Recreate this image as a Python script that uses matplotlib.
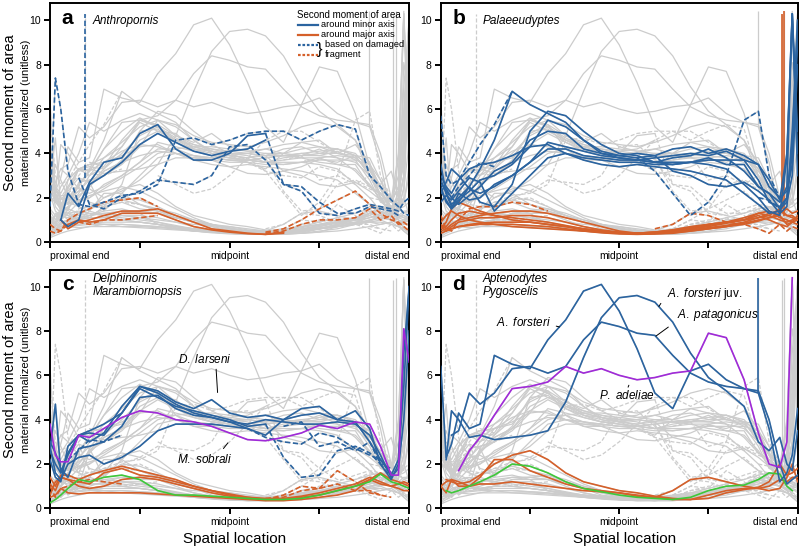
import numpy as np
import matplotlib
matplotlib.use("Agg")
import matplotlib.pyplot as plt

plt.rcParams['font.family'] = ['Liberation Sans', 'DejaVu Sans']
plt.rcParams['mathtext.fontset'] = 'custom'
plt.rcParams['mathtext.rm'] = 'Liberation Sans'
plt.rcParams['mathtext.it'] = 'Liberation Sans:italic'

N = np.nan

# sampling positions along the bone (0 = proximal end, 1 = distal end)
pos = [0, 0.015, 0.03, 0.05, 0.08, 0.11, 0.15, 0.2, 0.25, 0.3, 0.35, 0.4, 0.45,
       0.5, 0.55, 0.6, 0.65, 0.7, 0.75, 0.8, 0.85, 0.89, 0.92, 0.95, 0.97, 0.985, 1.0]

# ---- a: Anthropornis
anthro_minor = [
    [N, N, 1.0, 2.2, 1.6, 2.7, 3.6, 3.8, 4.9, 5.3, 4.2, 3.7, 3.7, 4.0, 4.8, 4.9] + [N] * 11,
    [N, N, 1.0, 0.7, 1.0, 2.6, 3.0, 3.6, 4.4, 4.9, 4.5, 4.1, 3.9, 4.1, 4.2, 4.6] + [N] * 11,
]
anthro_minor_dmg = [
    [1.6, 7.4, 6.0, 3.2, 1.7, 1.6, 1.8, 2.1, 2.2, 2.6, 4.6, 4.7, 4.4, 4.6, 4.9, 5.0, 5.0,
     4.6, 5.0, 5.3, 5.1, 3.0, 2.5, 1.9, 1.6, 1.3, 1.2],
    [N, N, N, N, 2.9, 1.7, 1.5, 2.0, 2.3, 2.8, 2.7, 2.6, 3.0, 4.3, 4.4, 3.7, 2.6, 2.3,
     1.3, 1.2, 1.5, 1.7, 1.6, 1.5, 1.4, 1.8, 2.0],
    [N] * 15 + [4.9, 2.6, 2.5, 1.8, 1.3, 1.3, 1.6, 1.5, 1.4, 1.2, N, N],
]
anthro_major = [
    [N, N, 1.0, 0.6, 0.9, 1.0, 1.2, 1.4, 1.4, 1.5, 1.2, 0.9, 0.6, 0.5, 0.4, 0.35, 0.45] + [N] * 10,
    [N, N, N, 0.8, 1.0, 0.9, 1.0, 1.3, 1.3, 1.3, 1.0, 0.7, 0.55, 0.45, 0.38, 0.35, 0.4] + [N] * 10,
]
anthro_major_dmg = [
    [0.8, 0.6, 0.5, 1.0, 1.3, 1.5, 1.8, 1.9, 2.0, 1.6] + [N] * 17,
    [0.5, 0.4, 0.5, 0.8, 0.9, 0.8, 1.0, 1.0, 1.1, 1.2] + [N] * 17,
    [N] * 15 + [0.45, 0.6, 1.0, 1.5, 1.9, 2.3, 1.7, 1.3, 1.0, 0.9, 0.7, 0.5],
    [N] * 15 + [0.4, 0.5, 0.8, 1.0, 1.0, 1.1, 1.5, 1.0, 1.2, 0.8, 0.9, 0.7],
]

# ---- b: Palaeeudyptes
palae_minor = [
    [2.3, 1.9, 1.5, 1.8, 2.5, 3.3, 4.6, 6.8, 6.2, 5.8, 5.4, 4.6, 4.0, 3.8, 3.7, 3.6, 3.8,
     3.9, 4.2, 3.8, 3.2, 2.5, 2.2, 1.8, 2.5, 10.3, 5.0],
    [3.5, 2.2, 1.7, 2.0, 2.5, 1.8, 1.6, 2.6, 5.0, 5.9, 5.7, 5.0, 4.4, 4.0, 3.9, 3.6, 3.5,
     3.6, 3.5, 3.3, 2.6, 2.0, 1.4, 1.2, 3.8, 10.3, 4.0],
    [2.8, 2.2, 1.6, 1.9, 2.3, 2.8, 3.0, 3.5, 4.3, 5.5, 5.2, 4.6, 4.1, 3.9, 3.8, 3.9, 4.2,
     4.3, 4.0, 4.2, 3.9, 3.5, 2.5, 2.0, 2.3, 3.5, 10.0],
    [2.5, 1.8, 1.5, 2.2, 1.9, 2.0, 2.6, 3.0, 3.6, 4.2, 4.2, 3.9, 3.8, 3.7, 3.7, 3.8, 3.9,
     4.0, 3.9, 4.1, 3.7, 2.8, 1.8, 1.6, 2.0, 4.0, 9.0],
    [2.2, 2.7, 3.3, 3.0, 2.4, 2.2, 2.5, 3.0, 3.6, 4.5, 4.3, 4.1, 3.9, 3.8, 3.7, 3.6, 3.6,
     3.6, 3.7, 3.7, 3.7, 3.5, 2.8, 1.9, 4.0, 10.3, 3.0],
    [1.8, 2.1, 1.9, 2.3, 2.9, 2.7, 1.4, 2.2, 3.0, 3.8, 4.0, 3.8, 3.7, 3.6, 3.6, 3.5, 3.5,
     3.6, 3.8, 3.5, 3.5, 2.5, 2.2, 1.5, 1.8, 3.0, 8.0],
    [2.6, 2.4, 2.0, 1.7, 2.1, 2.5, 3.2, 3.6, 4.6, 5.0, 4.9, 4.2, 4.0, 3.9, 4.0, 3.9, 3.2,
     3.0, 2.6, 2.5, 2.7, 2.3, 1.9, 1.3, 1.6, 5.0, 9.5],
    [3.0, 2.5, 2.2, 2.8, 3.3, 3.5, 3.6, 3.9, 4.3, 4.4, 4.0, 3.7, 3.5, 3.4, 3.5, 3.4, 3.3,
     3.2, 3.0, 2.8, 2.2, 1.7, 1.3, 1.4, 2.0, 4.5, 10.0],
]
palae_minor_dmg = [
    [N] * 14 + [3.8, 3.2, 2.2, 1.2, 1.8, 3.0, 5.5, 5.9, 3.0, 2.0, N, N, N],
    [5.7, 3.0, 2.6, 2.8, 3.6, 4.4, 5.3, 6.8] + [N] * 19,
    [N, 2.3, 2.0, 2.5, 3.0, 3.6, 3.4] + [N] * 20,
    [N] * 21 + [2.0, 1.9, 1.5, N, N, N],
]
palae_major = [
    [0.6, 0.9, 1.5, 1.8, 1.6, 1.4, 1.2, 1.0, 0.9, 0.8, 0.7, 0.55, 0.45, 0.4, 0.4, 0.45,
     0.55, 0.7, 0.8, 0.9, 1.0, 1.1, 1.2, 1.5, 1.2, 1.2, 1.0],
    [0.5, 0.6, 0.8, 1.0, 1.1, 1.2, 1.3, 1.4, 1.4, 1.3, 1.1, 0.9, 0.7, 0.5, 0.4, 0.45, 0.55,
     0.65, 0.8, 0.9, 1.0, 1.3, 1.2, 1.0, 0.9, 1.0, 1.1],
    [0.7, 0.5, 0.7, 0.9, 1.0, 1.1, 1.1, 1.2, 1.2, 1.1, 0.9, 0.7, 0.55, 0.45, 0.4, 0.45, 0.5,
     0.6, 0.7, 0.85, 1.0, 1.2, 1.0, 0.8, 0.7, 0.9, 1.0],
    [0.8, 0.6, 0.6, 0.7, 0.8, 0.85, 0.9, 0.9, 0.9, 0.8, 0.7, 0.6, 0.5, 0.42, 0.38, 0.4, 0.45,
     0.55, 0.65, 0.75, 0.9, 1.1, 1.3, 1.4, 1.2, 1.1, 1.0],
    [0.4, 0.5, 0.6, 0.7, 0.75, 0.8, 0.8, 0.8, 0.75, 0.7, 0.6, 0.5, 0.42, 0.37, 0.35, 0.37,
     0.4, 0.5, 0.6, 0.7, 0.85, 1.0, 1.1, 1.2, 0.8, 0.9, 1.2],
    [0.6, 0.7, 1.0, 1.3, 1.4, 1.3, 1.2, 1.1, 1.0, 0.9, 0.75, 0.6, 0.5, 0.42, 0.4, 0.4, 0.48,
     0.6, 0.75, 0.9, 1.1, 1.3, 1.4, 1.1, 1.0, 0.9, 0.8],
    [0.9, 1.2, 1.4, 1.2, 1.0, 0.9, 0.8, 0.7, 0.65, 0.6, 0.55, 0.5, 0.45, 0.4, 0.38, 0.38,
     0.42, 0.5, 0.6, 0.7, 0.8, 0.95, 1.1, 1.3, 1.5, 1.3, 1.4],
]
palae_major_dmg = [
    [1.2, 0.6, 0.5, 1.0, 1.5, 1.6, 1.6, 1.8, 1.7, 1.4] + [N] * 17,
    [N] * 15 + [0.6, 0.8, 1.3, 1.2, 0.9, 0.8, 0.6, 0.4, 0.8, 0.5, 0.7, 0.6],
]

# ---- c: Delphinornis (blue/orange), Marambiornopsis sobrali (purple/green)
delph_minor = [
    [2.6, 4.7, 1.6, 2.5, 3.3, 3.5, 3.8, 4.3, 5.5, 5.3, 4.8, 4.5, 4.9, 4.3, 4.1, 4.2, 4.0,
     4.2, 4.3, 4.0, 4.4, 3.6, 2.0, 1.3, 2.0, 7.0, 10.0],
    [2.2, 1.4, 1.2, 2.8, 3.3, 3.0, 3.4, 4.6, 5.5, 5.2, 4.7, 4.3, 4.1, 3.9, 3.6, 3.3, 4.0,
     4.5, 4.6, 4.0, 3.9, 3.0, 2.2, 1.5, 2.2, 5.5, 10.0],
    [3.0, 2.5, 1.8, 1.4, 2.7, 2.8, 3.0, 3.7, 5.0, 5.1, 4.5, 4.2, 4.1, 3.9, 3.8, 4.0, 3.9,
     3.8, 3.8, 3.9, 3.8, 3.3, 2.4, 1.4, 1.8, 4.0, 8.0],
    [2.8, 1.6, 1.3, 2.0, 2.3, 2.4, 2.0, 2.3, 2.8, 3.5, 3.8, 3.8, 3.8, 3.7, 3.6] + [N] * 12,
    [2.6, 2.0, 1.6, 2.4, 3.3, 3.4, 3.3, 4.3, 5.4, 5.0, 4.6, 4.4, 4.2, 4.0, 3.7, 3.8] + [N] * 11,
]
delph_minor_dmg = [
    [N] * 15 + [3.8, 2.3, 1.4, 1.5, 2.6, 2.8, 2.5, 2.0, 1.8, N, N, N],
    [N] * 14 + [3.6, 3.2, 3.0, 2.9, 3.4, 3.2, 2.7, 2.4, 2.2, 1.6, N, N, N],
    [N] * 16 + [3.7, 3.9, 2.8, 3.0, 2.6, 3.0, 2.0, 1.4, N, N, N],
    [N, N, N, 2.2, 2.6, 3.1, 3.0, 3.3] + [N] * 19,
]
delph_major = [
    [1.4, 1.0, 1.5, 1.5, 1.3, 1.5, 1.7, 1.9, 1.7, 1.5, 1.3, 1.0, 0.8, 0.6, 0.5, 0.4, 0.4,
     0.5, 0.6, 0.8, 1.0, 1.3, 1.6, 1.3, 1.2, 1.1, 1.0],
    [0.6, 1.2, 1.4, 1.3, 1.2, 1.1, 1.6, 1.8, 1.5, 1.4, 1.2, 1.0, 0.8, 0.65, 0.5, 0.45, 0.45,
     0.55, 0.7, 0.9, 1.1, 1.4, 1.2, 1.0, 1.1, 1.2, 1.1],
    [1.1, 0.8, 1.4, 1.3, 1.0, 0.9, 1.0, 1.3, 1.4, 1.3, 1.1, 0.9, 0.7, 0.55, 0.45, 0.4] + [N] * 11,
    [0.5, 0.6, 0.9, 0.7, 0.65, 0.7, 0.7, 0.7, 0.7, 0.65, 0.6, 0.55, 0.5, 0.45, 0.4, 0.35,
     0.35, 0.4, 0.5, 0.6, 0.8, 1.3, 1.1, 1.0, 0.9, 0.8, 0.8],
]
delph_major_dmg = [
    [N] * 15 + [0.4, 0.6, 1.0, 0.9, 1.7, 1.2, 0.7, 0.6, N, N, N, N],
    [N] * 15 + [0.45, 0.5, 0.8, 0.9, 1.1, 0.8, 0.8, 0.6, 0.5, N, N, N],
    [1.0, 0.5, 0.9, 1.0, 1.2, 1.3, 1.2, 1.1] + [N] * 19,
]
sobrali_minor = [
    [3.8, 2.4, 2.1, 2.1, 3.3, 3.2, 3.6, 4.1, 4.4, 4.3, 4.0, 3.9, 3.7, 3.4, 3.1, 3.05, 3.2,
     3.4, 3.75, 3.6, 3.9, 3.8, 2.8, 1.5, 1.5, 8.1, 6.6],
]
sobrali_major = [
    [0.25, 0.4, 0.6, 0.9, 1.3, 1.2, 1.4, 1.5, 1.3, 0.8, 0.6, 0.6, 0.55, 0.5, 0.45, 0.4, 0.4,
     0.45, 0.6, 0.8, 1.0, 1.2, 1.55, 1.2, 1.1, 1.0, 0.9],
]

# ---- d: Aptenodytes (blue/orange), Pygoscelis adeliae (purple/green)
apten_minor = [
    # A. forsteri
    [6.4, 2.3, 2.9, 4.3, 3.6, 3.8, 6.9, 6.5, 6.3, 7.6, 8.5, 9.8, 10.1, 8.9, 7.2, 5.2, 4.5,
     6.2, 6.5, 5.8, 5.4, 5.2, 3.6, 1.2, 1.6, 2.4, 4.5],
    # A. forsteri juv.
    [N, 2.2, 4.4, 4.0, 3.2, 3.3, 3.1, 3.2, 3.3, 3.5, 4.8, 6.8, 8.6, 9.5, 9.6, 9.3, 8.4,
     7.0, 5.9, 5.3, 4.6, 3.0, 2.6, 3.2, 2.0, 1.7, 3.5],
    # A. patagonicus
    [N, N, 3.3, 3.5, 5.2, 4.7, 5.2, 6.3, 6.4, 6.1, 6.4, 7.6, 8.4, 8.2, 7.9, 7.8, 6.9,
     6.1, 5.7, 5.5, 5.4, 5.3, 4.0, 2.0, 1.1, 1.3, 1.5],
]
apten_major = [
    [1.0, 0.7, 1.3, 1.2, 1.0, 1.4, 2.2, 2.2, 1.7, 1.4, 1.1, 0.9, 0.8, 0.7, 0.55, 0.5, 0.8,
     1.3, 1.4, 1.2, 1.0, 0.9, 0.8, 0.9, 1.4, 2.0, 1.2],
    [N, 1.3, 1.2, 1.1, 1.2, 1.5, 2.0, 2.4, 2.6, 2.2, 1.6, 1.2, 1.0, 0.8, 0.7, 0.55, 0.45,
     0.4, 0.45, 0.7, 0.85, 0.95, 1.2, 2.0, 1.5, 1.6, 1.8],
    [1.0, 1.2, 1.3, 1.0, 1.0, 1.1, 1.1, 1.2, 1.1, 1.0, 0.9, 0.8, 0.75, 0.7, 0.6, 0.5, 0.4,
     0.4, 0.6, 0.8, 0.9, 0.9, 1.0, 1.3, 1.2, 1.4, 1.4],
]
adeliae_minor = [
    [N, N, N, 1.7, 2.6, 3.2, 4.2, 5.4, 5.5, 5.7, 6.4, 6.1, 6.3, 6.0, 5.8, 5.9, 6.1, 6.2,
     7.9, 7.7, 5.8, 3.4, 2.0, 1.85, 3.0, 10.4, N],
]
adeliae_major = [
    [N, 0.8, 0.7, 0.8, 1.0, 1.2, 1.5, 2.0, 1.9, 1.6, 1.2, 0.9, 0.75, 0.6, 0.5, 0.45, 0.4,
     0.5, 0.8, 1.0, 1.05, 1.3, 1.6, 1.55, 1.0, 0.8, N],
]

# ---- other taxa, only shown in grey
other_minor = [
    [2.0, 1.8, 2.5, 3.0, 4.0, 5.4, 5.0, 5.5, 5.8, 5.5, 4.8, 4.4, 4.2, 4.1, 4.0, 4.2, 4.4,
     4.5, 4.3, 4.2, 3.9, 3.0, 2.0, 1.6, 1.8, 3.0, 10.3],
    [4.6, 2.2, 1.6, 2.0, 2.6, 3.2, 4.2, 5.0, 5.6, 5.2, 4.6, 4.3, 4.1, 4.0, 4.0, 3.9, 3.9,
     4.0, 4.1, 4.2, 4.0, 3.3, 2.5, 1.8, 2.5, 6.0, 10.3],
    [3.0, 2.0, 1.4, 1.6, 2.0, 2.6, 3.3, 4.0, 4.8, 5.2, 4.6, 4.2, 3.9, 3.8, 3.7, 3.6, 3.7,
     3.8, 3.6, 3.5, 3.3, 2.6, 1.9, 1.3, 1.6, 3.0, 8.0],
    [1.2, 0.9, 1.0, 1.5, 2.2, 3.0, 3.8, 4.5, 5.2, 5.5, 5.3, 4.8, 4.5, 4.4, 4.3, 4.5, 4.8,
     5.2, 5.4, 5.2, 4.6, 3.5, 2.4, 1.5, 1.3, 2.5, 10.3],
    [2.5, 3.5, 2.8, 2.0, 1.8, 2.0, 2.4, 2.9, 3.4, 4.0, 4.2, 4.3, 4.3, 4.2, 4.1, 4.0, 4.0,
     3.9, 3.9, 3.8, 3.6, 3.0, 2.4, 1.9, 1.7, 2.0, 7.5],
    [1.5, 1.2, 1.0, 1.3, 1.8, 2.5, 3.2, 3.6, 3.9, 4.1, 4.0, 3.9, 3.8, 3.7, 3.7, 3.8, 3.9,
     3.9, 4.0, 4.0, 3.8, 3.2, 2.5, 1.8, 1.5, 1.8, 3.0],
]
other_minor_dmg = [
    [N] * 9 + [3.0, 2.6, 2.2, 2.4, 3.0, 3.8, 4.6, 5.0, 5.0, 4.5, 4.0] + [N] * 7,
]
other_major = [
    [0.3, 0.5, 0.8, 1.0, 1.1, 1.2, 1.3, 1.2, 1.1, 0.9, 0.7, 0.6, 0.5, 0.4, 0.35, 0.35, 0.4,
     0.5, 0.6, 0.7, 0.8, 1.0, 1.1, 1.0, 0.8, 0.5, 0.3],
    [0.8, 0.9, 1.2, 1.6, 1.9, 2.1, 2.3, 2.5, 2.3, 1.9, 1.5, 1.1, 0.8, 0.6, 0.5, 0.5, 0.6,
     0.7, 0.9, 1.1, 1.3, 1.5, 1.6, 1.4, 1.0, 0.6, 0.4],
    [0.5, 0.6, 0.7, 0.8, 0.9, 0.9, 1.0, 1.0, 0.9, 0.8, 0.65, 0.5, 0.45, 0.4, 0.4, 0.4, 0.45,
     0.5, 0.6, 0.7, 0.8, 0.9, 0.9, 0.8, 0.7, 0.6, 0.5],
    [0.2, 0.3, 0.4, 0.5, 0.6, 0.7, 0.8, 0.8, 0.75, 0.7, 0.6, 0.5, 0.45, 0.4, 0.35, 0.35, 0.35,
     0.4, 0.45, 0.5, 0.6, 0.7, 0.8, 0.9, 0.7, 0.5, 0.3],
]

# narrow vertical spikes of single profiles: position, low, high, owner group
spike_x = [0.098, 0.888, 0.955, 0.963]
spike_lo = [2.9, 5.2, 1.5, 1.2]
spike_hi = [10.3, 10.4, 10.3, 10.4]
spike_owner = ['anthro_minor_dmg', 'apten_minor', 'palae_major', 'palae_major']

BLUE = '#2b64a0'
ORANGE = '#d5602a'
PURPLE = '#a02ad8'
GREEN = '#3ec83a'
GREY = '#cccccc'
DASH = (0, (3.2, 1.6))

groups = {
    'other_major': (other_major, GREY, '-'),
    'other_minor': (other_minor, GREY, '-'),
    'other_minor_dmg': (other_minor_dmg, GREY, DASH),
    'anthro_major': (anthro_major, ORANGE, '-'),
    'anthro_major_dmg': (anthro_major_dmg, ORANGE, DASH),
    'anthro_minor': (anthro_minor, BLUE, '-'),
    'anthro_minor_dmg': (anthro_minor_dmg, BLUE, DASH),
    'palae_major': (palae_major, ORANGE, '-'),
    'palae_major_dmg': (palae_major_dmg, ORANGE, DASH),
    'palae_minor': (palae_minor, BLUE, '-'),
    'palae_minor_dmg': (palae_minor_dmg, BLUE, DASH),
    'delph_major': (delph_major, ORANGE, '-'),
    'delph_major_dmg': (delph_major_dmg, ORANGE, DASH),
    'delph_minor': (delph_minor, BLUE, '-'),
    'delph_minor_dmg': (delph_minor_dmg, BLUE, DASH),
    'sobrali_major': (sobrali_major, GREEN, '-'),
    'sobrali_minor': (sobrali_minor, PURPLE, '-'),
    'apten_major': (apten_major, ORANGE, '-'),
    'apten_minor': (apten_minor, BLUE, '-'),
    'adeliae_major': (adeliae_major, GREEN, '-'),
    'adeliae_minor': (adeliae_minor, PURPLE, '-'),
}

panels = {
    'a': ['anthro_major', 'anthro_major_dmg', 'anthro_minor', 'anthro_minor_dmg'],
    'b': ['palae_major', 'palae_major_dmg', 'palae_minor', 'palae_minor_dmg'],
    'c': ['delph_major', 'delph_major_dmg', 'sobrali_major', 'delph_minor',
          'delph_minor_dmg', 'sobrali_minor'],
    'd': ['apten_major', 'adeliae_major', 'apten_minor', 'adeliae_minor'],
}
taxa = {
    'a': ['Anthropornis'],
    'b': ['Palaeeudyptes'],
    'c': ['Delphinornis', 'Marambiornopsis'],
    'd': ['Aptenodytes', 'Pygoscelis'],
}
rects = {
    'a': [0.0625, 0.559, 0.449, 0.435],
    'b': [0.551, 0.559, 0.446, 0.435],
    'c': [0.0625, 0.074, 0.449, 0.435],
    'd': [0.551, 0.074, 0.446, 0.435],
}

fig = plt.figure(figsize=(8, 5.49), dpi=100)

axes = {}
for p in ['a', 'b', 'c', 'd']:
    ax = fig.add_axes(rects[p])
    axes[p] = ax

    # every profile in grey in the background
    for key, (lines, col, ls) in groups.items():
        for y in lines:
            ax.plot(pos, y, color=GREY, lw=0.9, ls=ls, zorder=1)
    for sx, lo, hi, owner in zip(spike_x, spike_lo, spike_hi, spike_owner):
        ax.vlines(sx, lo, hi, color=GREY, lw=0.9, linestyles=groups[owner][2], zorder=1)

    # highlighted taxa
    for key in panels[p]:
        lines, col, ls = groups[key]
        for y in lines:
            ax.plot(pos, y, color=col, lw=1.2, ls=ls, zorder=3)
        for sx, lo, hi, owner in zip(spike_x, spike_lo, spike_hi, spike_owner):
            if owner == key:
                ax.vlines(sx, lo, hi, color=col, lw=1.2, linestyles=ls, zorder=3)

    ax.set_xlim(0, 1)
    ax.set_ylim(0, 10.77)
    ax.set_yticks([0, 2, 4, 6, 8, 10])
    ax.set_xticks([0, 0.25, 0.5, 0.75, 1])
    ax.set_xticklabels(['proximal end', '', 'midpoint', '', 'distal end'])
    tl = ax.get_xticklabels()
    tl[0].set_ha('left')
    tl[-1].set_ha('right')
    ax.tick_params(direction='out', length=4, width=1.4, labelsize=7.5, pad=2.5)
    for s in ax.spines.values():
        s.set_linewidth(1.4)

    ax.text(0.033, 10.1, p, fontsize=15, fontweight='bold', va='center', ha='left')
    if len(taxa[p]) == 1:
        ax.text(0.118, 9.95, taxa[p][0], fontsize=8.5, style='italic', va='center')
    else:
        ax.text(0.118, 10.35, taxa[p][0], fontsize=8.5, style='italic', va='center')
        ax.text(0.118, 9.75, taxa[p][1], fontsize=8.5, style='italic', va='center')

for p in ['a', 'c']:
    ax = axes[p]
    ax.text(-0.112, 0.54, 'Second moment of area', rotation=90, fontsize=10.5,
            ha='center', va='center', transform=ax.transAxes)
    ax.text(-0.068, 0.54, 'material normalized (unitless)', rotation=90, fontsize=8,
            ha='center', va='center', transform=ax.transAxes)
for p in ['c', 'd']:
    axes[p].text(0.515, -0.13, 'Spatial location', fontsize=11, ha='center', va='center',
                 transform=axes[p].transAxes)

# legend of panel a
ax = axes['a']
ax.text(0.688, 10.25, 'Second moment of area', fontsize=7, va='center')
ax.plot([0.69, 0.745], [9.8, 9.8], color=BLUE, lw=1.6)
ax.plot([0.69, 0.745], [9.35, 9.35], color=ORANGE, lw=1.6)
ax.plot([0.69, 0.745], [8.9, 8.9], color=BLUE, lw=1.6, ls=(0, (1.2, 0.8)))
ax.plot([0.69, 0.745], [8.45, 8.45], color=ORANGE, lw=1.6, ls=(0, (1.2, 0.8)))
ax.text(0.755, 9.8, 'around minor axis', fontsize=6.7, va='center')
ax.text(0.755, 9.35, 'around major axis', fontsize=6.7, va='center')
ax.text(0.744, 8.67, '}', fontsize=12, va='center')
ax.text(0.766, 8.9, 'based on damaged', fontsize=6.7, va='center')
ax.text(0.766, 8.45, 'fragment', fontsize=6.7, va='center')

# labels in panel c
ax = axes['c']
ax.text(0.43, 6.7, r'$\it{D.\ larseni}$', fontsize=8.5, ha='center', va='center')
ax.annotate('', xy=(0.467, 5.1), xytext=(0.462, 6.4),
            arrowprops=dict(arrowstyle='-', lw=0.7, color='black'))
ax.text(0.43, 2.2, r'$\it{M.\ sobrali}$', fontsize=8.5, ha='center', va='center')
ax.annotate('', xy=(0.50, 3.05), xytext=(0.478, 2.6),
            arrowprops=dict(arrowstyle='-', lw=0.7, color='black'))

# labels in panel d
ax = axes['d']
ax.text(0.232, 8.4, r'$\it{A.\ forsteri}$', fontsize=8.5, ha='center', va='center')
ax.annotate('', xy=(0.34, 8.15), xytext=(0.316, 8.25),
            arrowprops=dict(arrowstyle='-', lw=0.7, color='black'))
ax.text(0.635, 9.65, r'$\it{A.\ forsteri}$ juv.', fontsize=8.5, ha='left', va='center')
ax.annotate('', xy=(0.607, 9.0), xytext=(0.621, 9.35),
            arrowprops=dict(arrowstyle='-', lw=0.7, color='black'))
ax.text(0.663, 8.7, r'$\it{A.\ patagonicus}$', fontsize=8.5, ha='left', va='center')
ax.annotate('', xy=(0.597, 7.7), xytext=(0.644, 8.25),
            arrowprops=dict(arrowstyle='-', lw=0.7, color='black'))
ax.text(0.443, 5.07, r'$\it{P.\ adeliae}$', fontsize=8.5, ha='left', va='center')
ax.annotate('', xy=(0.53, 5.67), xytext=(0.522, 5.35),
            arrowprops=dict(arrowstyle='-', lw=0.7, color='black'))

fig.savefig('out.png', dpi=100)
